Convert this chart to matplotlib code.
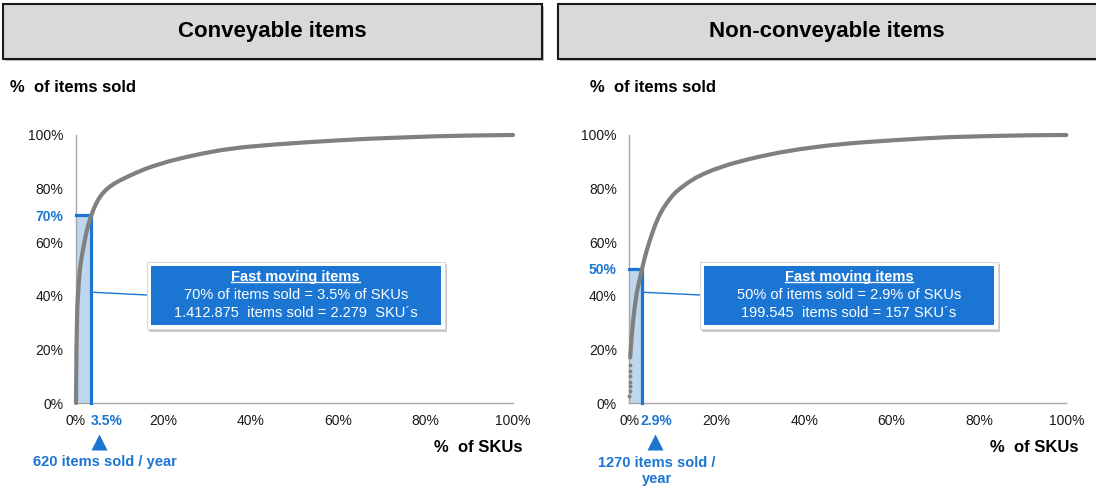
import numpy as np
import matplotlib
matplotlib.use("Agg")
import matplotlib.pyplot as plt
from matplotlib.patches import Rectangle
from matplotlib.lines import Line2D
from matplotlib.ticker import PercentFormatter
from matplotlib.transforms import offset_copy

plt.rcParams['font.family'] = ['Liberation Sans', 'DejaVu Sans']

# cumulative share of SKUs (x) vs share of items sold (y)
conv_x = [0.0, 0.001, 0.003, 0.006, 0.009, 0.013, 0.017, 0.021, 0.025, 0.030, 0.035, 0.040, 0.045, 0.050,
          0.055, 0.060, 0.066, 0.072, 0.078, 0.089, 0.10, 0.11, 0.12, 0.139, 0.158, 0.177, 0.215, 0.253,
          0.29, 0.33, 0.38, 0.45, 0.52, 0.60, 0.67, 0.75, 0.82, 0.90, 1.0]
conv_y = [0.0, 0.20, 0.36, 0.44, 0.50, 0.545, 0.58, 0.615, 0.645, 0.675, 0.70, 0.722, 0.74, 0.756,
          0.769, 0.78, 0.791, 0.80, 0.808, 0.82, 0.83, 0.838, 0.846, 0.86, 0.873, 0.884, 0.903, 0.918,
          0.931, 0.943, 0.954, 0.964, 0.972, 0.980, 0.986, 0.991, 0.995, 0.998, 1.0]
nonc_x = [0.002, 0.005, 0.009, 0.013, 0.017, 0.022, 0.029, 0.035, 0.04, 0.047, 0.055, 0.060, 0.066, 0.072,
          0.078, 0.087, 0.097, 0.106, 0.116, 0.135, 0.154, 0.173, 0.192, 0.23, 0.269, 0.30, 0.345, 0.39,
          0.45, 0.52, 0.60, 0.67, 0.733, 0.80, 0.85, 0.92, 1.0]
nonc_y = [0.17, 0.24, 0.31, 0.365, 0.41, 0.45, 0.50, 0.54, 0.57, 0.607, 0.645, 0.667, 0.69, 0.71,
          0.727, 0.749, 0.77, 0.786, 0.80, 0.823, 0.842, 0.857, 0.870, 0.891, 0.908, 0.920, 0.935, 0.947,
          0.960, 0.971, 0.980, 0.987, 0.992, 0.995, 0.997, 0.999, 1.0]
# sparse low-volume points visible as single dots near the origin (non-conveyable)
nonc_dot_x = [0.0, 0.0005, 0.001, 0.0012, 0.0015, 0.0018, 0.002]
nonc_dot_y = [0.025, 0.045, 0.065, 0.08, 0.10, 0.12, 0.14]

titles = ["Conveyable items", "Non-conveyable items"]
cut_x = [0.035, 0.029]
cut_y = [0.70, 0.50]
cut_x_labels = ["3.5%", "2.9%"]
threshold_labels = ["620 items sold / year", "1270 items sold /\nyear"]
box_lines = [
    ["70% of items sold = 3.5% of SKUs", "1.412.875  items sold = 2.279  SKU\u00b4s"],
    ["50% of items sold = 2.9% of SKUs", "199.545  items sold = 157 SKU\u00b4s"],
]

BLUE = '#1A76D2'
LIGHT = '#BDD7EE'
GRAY = '#808080'
W, H = 1096, 490

fig = plt.figure(figsize=(W / 100, H / 100), dpi=100)

def fx(x): return x / W
def fy(y): return 1 - y / H

# header boxes
for x0, x1, t in [(3, 542, titles[0]), (558, 1100, titles[1])]:
    fig.patches.append(Rectangle((fx(x0 + 2), fy(61)), fx(x1 - x0), 55 / H, transform=fig.transFigure,
                                 facecolor='#BFBFBF', edgecolor='none', zorder=0))
    fig.patches.append(Rectangle((fx(x0), fy(59)), fx(x1 - x0), 55 / H, transform=fig.transFigure,
                                 facecolor='#D9D9D9', edgecolor='#1A1A1A', lw=1.5, zorder=1))
    fig.text(fx((x0 + min(x1, 1096)) / 2), fy(31), t, ha='center', va='center',
             fontsize=16, fontweight='bold', color='black')

axes_left = [76, 629.3]
ylab_x = [10, 590]
sku_right = [522, 1078]
tri_dx = [8, 13]
lab_dx = [14, 15]
lab_dy = [-59, -68]
titles_for_underline = []

for i in range(2):
    ax = fig.add_axes([fx(axes_left[i]), fy(403), 437 / W, 268 / H])
    ax.set_xlim(0, 1)
    ax.set_ylim(0, 1)
    for s in ['top', 'right']:
        ax.spines[s].set_visible(False)
    for s in ['left', 'bottom']:
        ax.spines[s].set_color('#A6A6A6')
        ax.spines[s].set_linewidth(1)
    xs, ys = (conv_x, conv_y) if i == 0 else (nonc_x, nonc_y)
    ax.plot(xs, ys, color=GRAY, lw=3, solid_capstyle='round', solid_joinstyle='round',
            clip_on=False, zorder=4)
    if i == 1:
        ax.plot(nonc_dot_x, nonc_dot_y, 'o', color=GRAY, ms=2.8, mec='none', clip_on=False, zorder=4)

    cx, cy = cut_x[i], cut_y[i]
    ax.add_patch(Rectangle((0, 0), cx, cy, facecolor=LIGHT, edgecolor='none', zorder=2))
    ax.plot([0, cx, cx], [cy, cy, 0], color=BLUE, lw=2.3, solid_joinstyle='miter', zorder=3, clip_on=False)

    yt = sorted([0, 0.2, 0.4, 0.6, 0.8, 1.0, cy])
    ax.set_yticks(yt)
    ax.yaxis.set_major_formatter(PercentFormatter(1.0, decimals=0))
    ax.set_xticks([0, 0.2, 0.4, 0.6, 0.8, 1.0])
    ax.xaxis.set_major_formatter(PercentFormatter(1.0, decimals=0))
    ax.tick_params(axis='y', length=0, pad=9, labelsize=10, labelcolor='#1A1A1A')
    ax.tick_params(axis='x', length=0, pad=8, labelsize=10, labelcolor='#1A1A1A')
    for lab, v in zip(ax.get_yticklabels(), yt):
        if abs(v - cy) < 1e-9:
            lab.set_color(BLUE)
            lab.set_fontweight('bold')

    ax.annotate(cut_x_labels[i], xy=(cx, 0), xytext=(-1, -18), textcoords='offset pixels',
                ha='left', va='center', fontsize=10, fontweight='bold', color=BLUE, annotation_clip=False)
    ax.plot([cx], [0], marker='^', ms=11, color=BLUE, mec='none', clip_on=False,
            transform=offset_copy(ax.transData, fig, x=tri_dx[i], y=-39, units='dots'))
    ax.annotate(threshold_labels[i], xy=(cx, 0), xytext=(lab_dx[i], lab_dy[i]), textcoords='offset pixels',
                ha='center', va='center', fontsize=10.5, fontweight='bold', color=BLUE,
                linespacing=1.1, annotation_clip=False)

    # callout
    ax.add_patch(Rectangle((0.1618 + 0.005, 0.276 - 0.01), 0.6826, 0.251, transform=ax.transAxes,
                           facecolor='#C8C8C8', edgecolor='none', zorder=5, clip_on=False))
    ax.add_patch(Rectangle((0.1618, 0.276), 0.6826, 0.251, transform=ax.transAxes,
                           facecolor='white', edgecolor='#D9D9D9', lw=0.8, zorder=6, clip_on=False))
    ax.add_patch(Rectangle((0.171, 0.291), 0.6635, 0.221, transform=ax.transAxes,
                           facecolor=BLUE, edgecolor='none', zorder=7, clip_on=False))
    ax.plot([cx + 0.006, 0.1618], [0.413, 0.403], color=BLUE, lw=1, zorder=4, clip_on=False)
    t = ax.text(0.5027, 0.470, "Fast moving items", transform=ax.transAxes, ha='center', va='center',
                fontsize=10.5, fontweight='bold', color='white', zorder=8)
    titles_for_underline.append(t)
    ax.text(0.5027, 0.403, box_lines[i][0], transform=ax.transAxes, ha='center', va='center',
            fontsize=10.5, color='white', zorder=8)
    ax.text(0.5027, 0.336, box_lines[i][1], transform=ax.transAxes, ha='center', va='center',
            fontsize=10.5, color='white', zorder=8)

    fig.text(fx(ylab_x[i]), fy(88), "%  of items sold", ha='left', va='center', fontsize=12,
             fontweight='bold', color='black')
    fig.text(fx(sku_right[i]), fy(447), "%  of SKUs", ha='right', va='center', fontsize=12,
             fontweight='bold', color='black')

fig.canvas.draw()
r = fig.canvas.get_renderer()
for t in titles_for_underline:
    bb = t.get_window_extent(r)
    yline = bb.y0 + 2
    fig.add_artist(Line2D([bb.x0 / W, bb.x1 / W], [yline / H, yline / H], transform=fig.transFigure,
                          color='white', lw=1, zorder=10))

fig.savefig("out.png", dpi=100)
